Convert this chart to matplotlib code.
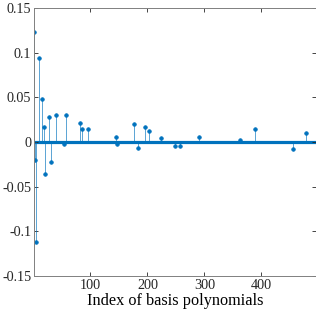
import numpy as np
import matplotlib.pyplot as plt

# индексы и значения коэффициентов
idx = [1, 3, 5, 9, 15, 18, 20, 28, 31, 40, 53, 57, 82, 86, 95,
       144, 146, 176, 184, 195, 202, 224, 248, 258, 291, 362, 388, 455, 478]
coef = [0.1235, -0.0202, -0.112, 0.094, 0.0477, 0.0171, -0.0355, 0.0283, -0.022,
        0.0298, -0.002, 0.0302, 0.0208, 0.0149, 0.0149,
        0.0056, -0.0027, 0.0197, -0.0064, 0.0168, 0.0123, 0.004, -0.0041, -0.0049,
        0.0052, 0.0018, 0.0149, -0.0078, 0.0104]
n_basis = 495

xticks = [100, 200, 300, 400]
yticks = [-0.15, -0.1, -0.05, 0, 0.05, 0.1, 0.15]
yticklabels = ['-0.15', '-0.1', '-0.05', '0', '0.05', '0.1', '0.15']

blue = '#0072BD'
plt.rcParams['font.family'] = 'Liberation Serif'

fig = plt.figure(figsize=(3.16, 3.16), dpi=100)
ax = fig.add_axes([0.1076, 0.1266, 0.891, 0.848])

ax.axhline(0, color=blue, linewidth=2.3, zorder=1)
ml, sl, bl = ax.stem(idx, coef, basefmt=' ')
plt.setp(sl, color=blue, linewidth=0.6, alpha=0.75)
plt.setp(ml, color=blue, marker='o', markersize=2.6, markeredgewidth=0.5)

ax.set_xlim(1, n_basis)
ax.set_ylim(-0.15, 0.15)
ax.set_xticks(xticks)
ax.set_yticks(yticks)
ax.set_yticklabels(yticklabels)
ax.tick_params(direction='in', length=3, width=0.6, colors='#262626',
               labelsize=10.2, top=True, right=True, pad=2)
for s in ax.spines.values():
    s.set_color('#808080')
    s.set_linewidth(0.7)
ax.set_xlabel('Index of basis polynomials', fontsize=11.7, labelpad=1)

fig.savefig('out.png', dpi=100)
